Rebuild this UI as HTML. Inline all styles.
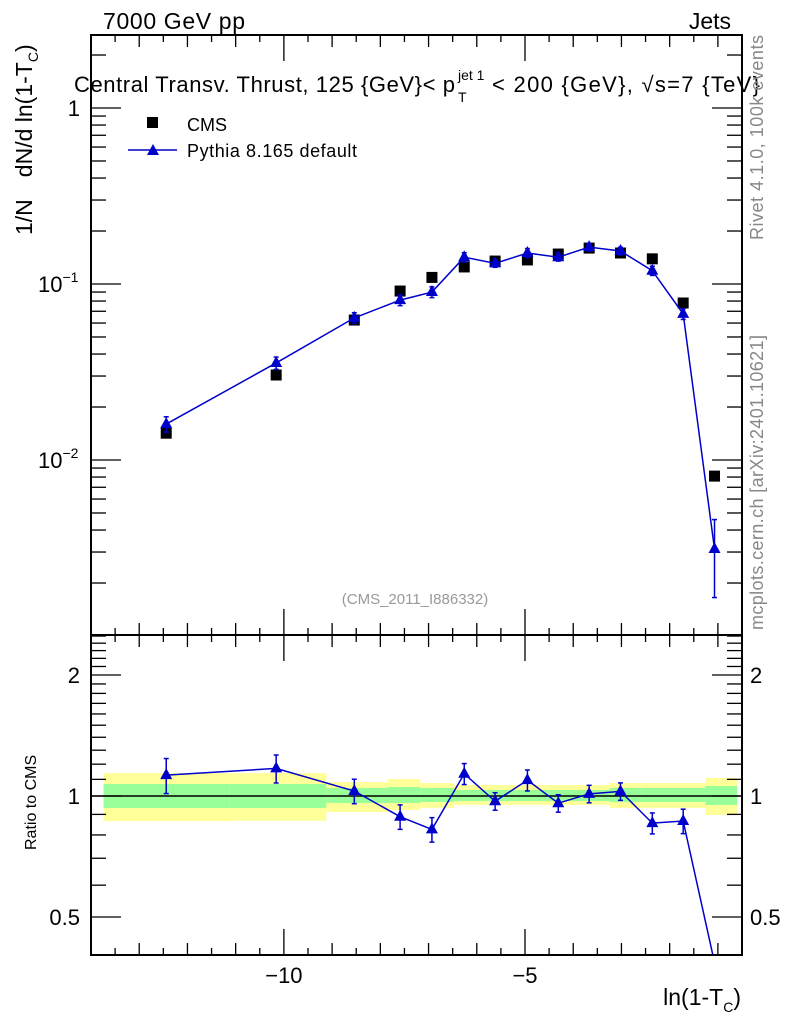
<!DOCTYPE html>
<html><head><meta charset="utf-8"><style>
body{margin:0;background:#fff}
svg{display:block;font-family:"Liberation Sans",sans-serif}
</style></head><body>
<svg id="c" width="786" height="1024" viewBox="0 0 786 1024">
<defs>
<clipPath id="clipTop"><rect x="91" y="35" width="651" height="600"/></clipPath>
<clipPath id="clipBot"><rect x="91" y="635" width="651" height="320"/></clipPath>
</defs>
<g id="bands" clip-path="url(#clipBot)"></g>
<g id="marks"></g>
<rect x="91" y="35" width="651" height="600" fill="none" stroke="#000" stroke-width="2"/>
<rect x="91" y="635" width="651" height="320" fill="none" stroke="#000" stroke-width="2"/>
<g id="ticks" stroke="#000" stroke-width="1.3"></g>
<text x="103" y="29" font-size="23" textLength="142">7000 GeV pp</text>
<text x="731" y="29" font-size="23" text-anchor="end">Jets</text>
<text x="74" y="92" font-size="22"><tspan textLength="381">Central Transv. Thrust, 125 {GeV}&lt; p</tspan><tspan font-size="14" dy="-12" x="458">jet 1</tspan><tspan font-size="14" x="458" dy="22">T</tspan><tspan dy="-10" x="492" textLength="268">&lt; 200 {GeV}, √s=7 {TeV}</tspan></text>
<g>
<rect x="147" y="117" width="11" height="11" fill="#000"/>
<text x="187" y="131" font-size="18">CMS</text>
<line x1="128" y1="150" x2="177" y2="150" stroke="#00c" stroke-width="1.5"/>
<polygon points="153,144 159,155 147,155" fill="#00c"/>
<text x="187" y="157" font-size="18" textLength="170">Pythia 8.165 default</text>
</g>
<text x="415" y="604" font-size="15" fill="#999" text-anchor="middle">(CMS_2011_I886332)</text>
<text transform="translate(32,235) rotate(-90)" font-size="23">1/N<tspan dx="22">dN/d ln(1-T</tspan><tspan font-size="14" dy="6">C</tspan><tspan dy="-6">)</tspan></text>
<text transform="translate(36,850) rotate(-90)" font-size="16">Ratio to CMS</text>
<text x="741" y="1005" font-size="23" text-anchor="end">ln(1-T<tspan font-size="14" dy="7">C</tspan><tspan dy="-7">)</tspan></text>
<text transform="translate(763,240) rotate(-90)" font-size="18" fill="#888" textLength="205">Rivet 4.1.0,  100k events</text>
<text transform="translate(763,630) rotate(-90)" font-size="18" fill="#888" textLength="295">mcplots.cern.ch [arXiv:2401.10621]</text>
</svg>
<script>
const xs=[-12.44,-10.16,-8.54,-7.59,-6.93,-6.26,-5.62,-4.95,-4.31,-3.67,-3.02,-2.36,-1.72,-1.07];
const cms=[0.0142,0.0304,0.0624,0.0912,0.109,0.125,0.135,0.137,0.148,0.160,0.150,0.139,0.078,0.0081];
const pythia=[0.0160,0.0356,0.0642,0.081,0.090,0.142,0.131,0.150,0.142,0.162,0.154,0.119,0.0676,0.00312];
const pyRelErr=[0.10,0.08,0.07,0.07,0.07,0.06,0.05,0.06,0.05,0.05,0.05,0.06,0.07,0.47];
const binEdges=[-13.74,-11.12,-9.12,-7.84,-7.17,-6.47,-5.82,-5.18,-4.53,-3.88,-3.24,-2.59,-1.93,-1.26,-0.60];
const yelHi=[1.14,1.14,1.083,1.102,1.077,1.065,1.065,1.065,1.065,1.065,1.077,1.077,1.077,1.109];
const yelLo=[0.866,0.868,0.912,0.923,0.934,0.950,0.950,0.950,0.950,0.950,0.934,0.934,0.934,0.897];
const grnHi=[1.071,1.071,1.047,1.053,1.047,1.035,1.035,1.035,1.035,1.035,1.047,1.047,1.047,1.059];
const grnLo=[0.934,0.934,0.961,0.961,0.966,0.972,0.972,0.972,0.972,0.972,0.966,0.966,0.966,0.950];
const xTicks=[-10,-5];
const xTickLabels=["\u221210","\u22125"];
const yTickLabels=["1","10","10"];
const ratioTicks=[0.5,1,2];
const ratioTickLabels=["0.5","1","2"];

const NS="http://www.w3.org/2000/svg";
const X0=-14,X1=-0.5,PL=91,PR=742;
const sx=v=>PL+(v-X0)/(X1-X0)*(PR-PL);
const sy=v=>108-176*Math.log10(v);
const sr=v=>796-121*Math.log2(v);
function mk(tag,attrs,parent){const e=document.createElementNS(NS,tag);for(const k in attrs)e.setAttribute(k,attrs[k]);parent.appendChild(e);return e;}
const svg=document.getElementById('c');
const bands=document.getElementById('bands');
const marks=document.getElementById('marks');
const ticks=document.getElementById('ticks');

for(let i=0;i<yelHi.length;i++){
 const x=sx(binEdges[i]),w=sx(binEdges[i+1])-x;
 let r=mk('rect',{x:x,y:sr(yelHi[i]),width:w,height:sr(yelLo[i])-sr(yelHi[i]),fill:'#ffff99'},bands);
 
 
 r=mk('rect',{x:x,y:sr(grnHi[i]),width:w,height:sr(grnLo[i])-sr(grnHi[i]),fill:'#99ff99'},bands);
 
 
}
let l1=mk('line',{x1:PL,x2:PR,y1:sr(1),y2:sr(1),stroke:'#000','stroke-width':1.5},bands);



const gTop=mk('g',{'clip-path':'url(#clipTop)'},marks);
const gBot=mk('g',{'clip-path':'url(#clipBot)'},marks);
cms.forEach((v,i)=>{
 const r=mk('rect',{x:sx(xs[i])-5.5,y:sy(v)-5.5,width:11,height:11,fill:'#000'},gTop);
 
 
});
let pl=mk('polyline',{points:xs.map((x,i)=>sx(x)+','+sy(pythia[i])).join(' '),fill:'none',stroke:'#00c','stroke-width':1.5},gTop);


const ratio=pythia.map((v,i)=>v/cms[i]);
let rl=mk('polyline',{points:xs.map((x,i)=>sx(x)+','+sr(ratio[i])).join(' '),fill:'none',stroke:'#00c','stroke-width':1.5},gBot);


function tri(g,x,y,name){
 const p=mk('polygon',{points:`${x},${y-7} ${x+6},${y+4} ${x-6},${y+4}`,fill:'#00c'},g);
 
 
}
function err(g,x,y1,y2){
 mk('line',{x1:x,x2:x,y1:y1,y2:y2,stroke:'#00c','stroke-width':1.5},g);
 mk('line',{x1:x-2.5,x2:x+2.5,y1:y1,y2:y1,stroke:'#00c','stroke-width':1.5},g);
 mk('line',{x1:x-2.5,x2:x+2.5,y1:y2,y2:y2,stroke:'#00c','stroke-width':1.5},g);
}
pythia.forEach((v,i)=>{
 const x=sx(xs[i]),e=pyRelErr[i];
 err(gTop,x,sy(v*(1+e)),sy(v*(1-e)));
 tri(gTop,x,sy(v),'pythia-point');
 const r=ratio[i];
 if(sr(r)<955){
  err(gBot,x,sr(r*(1+e)),sr(Math.max(r*(1-e),0.01)));
  tri(gBot,x,sr(r),'ratio-point');
 }
});

for(let v=-14;v<=-0.5+1e-9;v+=0.5){
 const x=sx(v);const major=Math.abs(v%5)<1e-9;const mid=Math.abs(v%1)<1e-9;
 const L=major?26:(mid?12:7);
 mk('line',{x1:x,x2:x,y1:35,y2:35+L},ticks);
 mk('line',{x1:x,x2:x,y1:955,y2:955-L},ticks);
 mk('line',{x1:x,x2:x,y1:635-L,y2:635+L},ticks);
}
xTicks.forEach((v,i)=>{
 const t=mk('text',{x:sx(v),y:983,'font-size':22,'text-anchor':'middle'},svg);
 t.textContent=xTickLabels[i];
 
 
});
for(let d=-3;d<=0;d++){
 for(let m=1;m<10;m++){
  const v=m*Math.pow(10,d);const y=sy(v);
  if(y<35||y>635)continue;
  const L=m===1?30:15;
  mk('line',{x1:PL,x2:PL+L,y1:y,y2:y},ticks);
  mk('line',{x1:PR,x2:PR-L,y1:y,y2:y},ticks);
 }
}
[[0,''],[-1,'\u22121'],[-2,'\u22122']].forEach((d,i)=>{
 const y=sy(Math.pow(10,d[0]));
 const t=mk('text',{x:d[0]===0?80:38,y:y+8,'font-size':22,'text-anchor':d[0]===0?'end':'start'},svg);
 t.textContent=yTickLabels[i];
 if(d[1]){const s=mk('tspan',{'font-size':14,dy:-10},t);s.textContent=d[1];}
 
 
});
for(let v=0.4;v<=2.55;v+=0.1){
 const y=sr(v);if(y<635||y>955)continue;
 const maj=ratioTicks.some(r=>Math.abs(r-v)<1e-6);const L=maj?30:15;
 mk('line',{x1:PL,x2:PL+L,y1:y,y2:y},ticks);
 mk('line',{x1:PR,x2:PR-L,y1:y,y2:y},ticks);
}
ratioTicks.forEach((v,i)=>{
 const y=sr(v)+8;
 let t=mk('text',{x:80,y:y,'font-size':22,'text-anchor':'end'},svg);
 t.textContent=ratioTickLabels[i];
 
 
 t=mk('text',{x:750,y:y,'font-size':22},svg);
 t.textContent=ratioTickLabels[i];
 
 
});
</script>
</body></html>
